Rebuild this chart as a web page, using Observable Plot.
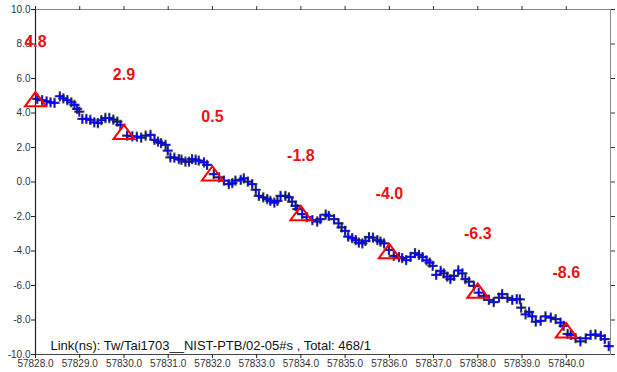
<!DOCTYPE html>
<html>
<head>
<meta charset="utf-8">
<script src="https://cdn.jsdelivr.net/npm/d3@7"></script>
<script src="https://cdn.jsdelivr.net/npm/@observablehq/plot@0.6"></script>
<style>
  html, body { margin: 0; padding: 0; background: #fff; }
  #chart svg { display: block; }
</style>
</head>
<body>
<div id="chart"></div>
<script>
// MJD offsets (days after 57828) and link values (ns)
const mjdOffset = [0.04,0.15,0.25,0.34,0.43,0.55,0.63,0.72,0.81,0.88,0.94,0.99,1.06,1.15,1.24,1.33,1.41,1.49,1.58,1.67,1.76,1.85,1.92,2.07,2.19,2.29,2.39,2.49,2.60,2.69,2.77,2.84,2.94,2.99,3.05,3.14,3.24,3.30,3.39,3.47,3.54,3.62,3.69,3.81,3.88,4.03,4.15,4.26,4.37,4.45,4.52,4.64,4.71,4.80,4.90,4.98,5.05,5.15,5.24,5.31,5.40,5.47,5.54,5.65,5.73,5.80,5.88,5.92,6.03,6.13,6.26,6.37,6.44,6.56,6.63,6.75,6.85,6.92,7.00,7.07,7.16,7.24,7.31,7.39,7.46,7.54,7.63,7.73,7.80,7.88,7.99,8.10,8.22,8.29,8.38,8.48,8.58,8.67,8.75,8.84,8.91,8.98,9.06,9.16,9.23,9.31,9.38,9.46,9.56,9.65,9.72,9.80,9.91,10.02,10.14,10.25,10.36,10.48,10.55,10.67,10.78,10.88,10.95,10.98,11.08,11.16,11.23,11.31,11.42,11.53,11.65,11.76,11.87,11.94,12.03,12.10,12.21,12.32,12.44,12.55,12.66,12.78,12.87,12.96];
const linkNs = [4.82,4.74,4.68,4.62,4.59,4.97,4.85,4.74,4.62,4.47,4.24,4.08,3.66,3.66,3.60,3.46,3.42,3.58,3.71,3.71,3.62,3.50,3.31,2.69,2.65,2.63,2.57,2.69,2.73,2.44,2.34,2.26,2.15,1.82,1.43,1.41,1.33,1.29,1.18,1.18,1.33,1.29,1.24,1.14,0.99,0.46,0.27,0.08,-0.12,-0.06,0.08,0.12,0.21,0.02,-0.12,-0.45,-0.80,-0.89,-0.99,-1.09,-1.19,-1.09,-0.80,-0.80,-0.89,-1.14,-1.38,-1.57,-1.86,-2.04,-2.21,-2.29,-2.15,-1.89,-1.96,-2.15,-2.40,-2.63,-2.83,-3.17,-3.25,-3.37,-3.51,-3.56,-3.41,-3.19,-3.22,-3.37,-3.45,-3.56,-3.93,-4.28,-4.36,-4.41,-4.53,-4.34,-4.13,-4.22,-4.36,-4.54,-4.67,-4.86,-5.38,-5.15,-5.30,-5.49,-5.63,-5.44,-5.13,-5.30,-5.63,-5.77,-6.02,-6.41,-6.60,-6.83,-6.96,-6.70,-6.50,-6.72,-6.84,-6.79,-6.80,-7.28,-7.67,-7.53,-7.79,-8.10,-8.05,-7.79,-7.86,-7.95,-8.15,-8.34,-8.80,-8.86,-9.05,-9.24,-9.07,-8.86,-8.84,-8.92,-9.11,-9.52];
const mjdStart = 57828;

// Daily reference markers
const markerMjd = [57828, 57830, 57832, 57834, 57836, 57838, 57840];
const markerValue = [4.8, 2.9, 0.5, -1.8, -4.0, -6.3, -8.6];

// Axis ticks
const xTicks = [57828,57829,57830,57831,57832,57833,57834,57835,57836,57837,57838,57839,57840];
const yTicks = [-10,-8,-6,-4,-2,0,2,4,6,8,10];

const caption = "Link(ns): Tw/Tai1703__NIST-PTB/02-05#s , Total: 468/1";

const points = mjdOffset.map((d, i) => ({mjd: mjdStart + d, v: linkNs[i]}));
const markers = markerMjd.map((m, i) => ({mjd: m, v: markerValue[i]}));

const wideTriangle = {
  draw(context, size) {
    const r = Math.sqrt(size / Math.PI);
    const w = r, h = r * 0.68;
    context.moveTo(0, -h);
    context.lineTo(w, h);
    context.lineTo(-w, h);
    context.closePath();
  }
};

const font = "Liberation Sans, Arial, sans-serif";

const chart = Plot.plot({
  width: 617,
  height: 372,
  marginLeft: 35,
  marginRight: 7,
  marginTop: 9,
  marginBottom: 18,
  style: {fontFamily: font, fontSize: "10px", color: "#333", background: "#fff"},
  x: {domain: [57828, 57841], label: null},
  y: {domain: [-10, 10], label: null},
  marks: [
    Plot.frame({stroke: "#888", strokeWidth: 1}),
    Plot.ruleX([57828], {stroke: "#222", strokeWidth: 1.2}),
    Plot.ruleY([-10], {stroke: "#444", strokeWidth: 1.2}),
    Plot.axisY({ticks: yTicks, tickFormat: d => d.toFixed(1), tickSize: 4, tickPadding: 1, fontSize: 10, fill: "#333", stroke: "#222", label: null}),
    Plot.axisY({anchor: "right", ticks: yTicks, tickFormat: () => "", tickSize: 4, stroke: "#333", label: null}),
    Plot.axisX({ticks: xTicks, tickFormat: d => d.toFixed(1), tickSize: 4, tickPadding: 1, fontSize: 10, fill: "#333", stroke: "#222", label: null}),
    Plot.axisX({anchor: "top", ticks: xTicks, tickFormat: () => "", tickSize: 4, stroke: "#333", label: null}),
    Plot.dot(points, {x: "mjd", y: "v", symbol: "plus", r: 3.4, stroke: "#222", strokeWidth: 2.2, strokeOpacity: 0.8}),
    Plot.dot(points, {x: "mjd", y: "v", symbol: "plus", r: 2.7, stroke: "#0000ff", strokeWidth: 1.3}),
    Plot.dot(markers, {x: "mjd", y: "v", symbol: wideTriangle, r: 10.5, stroke: "#ff0000", strokeWidth: 2, fill: "none"}),
    Plot.text(markers, {x: "mjd", y: "v", text: d => d.v.toFixed(1), dy: -57, fill: "#ee1111", fontSize: 16, fontWeight: "bold", lineAnchor: "middle", textAnchor: "middle", style: "letter-spacing:1px"}),
    Plot.text([caption], {frameAnchor: "bottom-left", text: d => d, dx: 15, dy: -5, lineAnchor: "bottom", fontSize: 13, fill: "#111", style: "letter-spacing:1.1px"})
  ]
});
document.getElementById("chart").appendChild(chart);
</script>
</body>
</html>
